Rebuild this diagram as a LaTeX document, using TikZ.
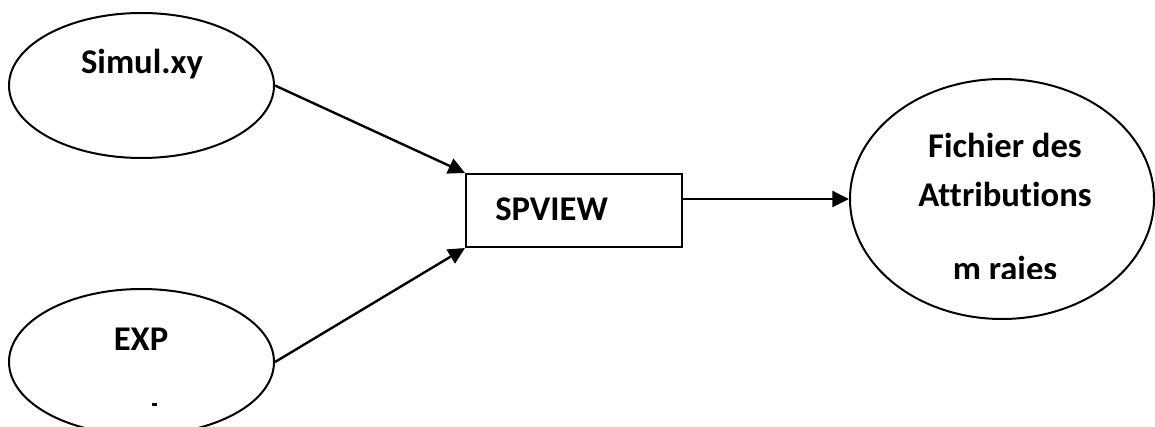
\documentclass[tikz,border=0pt]{standalone}
\usepackage{fontspec}
\setmainfont[Ligatures={NoCommon}]{Carlito}
\usetikzlibrary{shapes.geometric,arrows.meta}
\begin{document}
\begin{tikzpicture}[x=0.75pt,y=-0.75pt,
  lbl/.style={font=\fontsize{26}{31}\selectfont\bfseries, inner sep=0pt, anchor=base},
  oval/.style={draw, ellipse, line width=1.5pt, inner sep=0pt},
  conn/.style={line width=1.8pt, -{Triangle[length=12.5pt,width=12pt]}}]
\useasboundingbox (0,0) rectangle (1155,427);
\clip (0,0) rectangle (1155,427);
\fill[white] (0,0) rectangle (1155,427);
\node[oval, minimum width=198.75pt, minimum height=108.75pt] (simul) at (141.5,85.5) {};
\node[oval, minimum width=198.75pt, minimum height=109.5pt] (exp) at (141.5,362) {};
\node[oval, minimum width=228pt, minimum height=180pt] (fich) at (1002,199) {};
\node[draw, line width=1.5pt, minimum width=162pt, minimum height=54.75pt, inner sep=0pt] (spview) at (574,210.5) {};
\node[lbl] (tsimul) at (142,74) {Simul.xy};
\node[lbl] (texp) at (141,350) {EXP};
\node[lbl, anchor=base west] (tsp) at (495,221) {SPVIEW};
\node[lbl] (tf1) at (1005,158) {Fichier des};
\node[lbl] (tf2) at (1005,207) {Attributions};
\begin{scope}
\clip (900,240) rectangle (1100,279);
\node[lbl] (tf3) at (1005,281) {m raies};
\end{scope}
\fill (152,402.5) rectangle (156.5,405.5);
\draw[conn] (simul.east) -- (spview.north west);
\draw[conn] (exp.east) -- (spview.south west);
\draw[conn] (spview.east |- fich.west) -- (fich.west);
\end{tikzpicture}
\end{document}
